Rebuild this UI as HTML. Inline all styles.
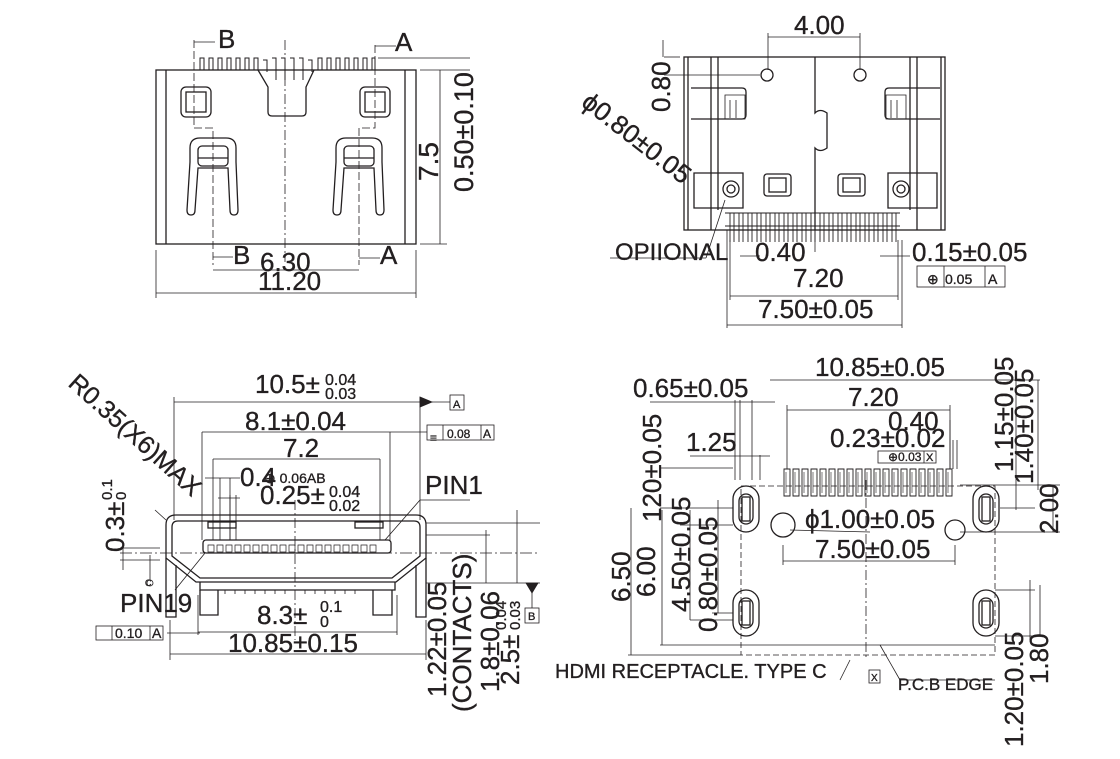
<!DOCTYPE html>
<html><head><meta charset="utf-8"><style>
html,body{margin:0;padding:0;background:#fff}
svg{display:block}
text{font-family:"Liberation Sans",sans-serif;fill:#231f20;stroke:#231f20;stroke-width:0.35}
</style></head><body>
<svg width="1120" height="759" viewBox="0 0 1120 759" xmlns="http://www.w3.org/2000/svg">
<g fill="none" stroke="#231f20" stroke-width="1.3">
<!-- ===== TOP LEFT ===== -->
<rect x="156" y="70" width="260" height="174"/>
<line x1="166" y1="70" x2="166" y2="244"/><line x1="405" y1="70" x2="405" y2="244"/>
<g stroke-width="1">
<path d="M200 70V58h4v12M209 70V58h4v12M218 70V58h4v12M227 70V58h4v12M236 70V58h4v12M245 70V58h4v12M254 70V58h4v12M318 70V58h4v12M327 70V58h4v12M336 70V58h4v12M345 70V58h4v12M354 70V58h4v12M363 70V58h4v12M372 70V58h3v12"/>
<path d="M263 60h4v12M272 58h4v22M281 58h4v22M290 58h4v22M299 58h4v22M308 60h4v12"/>
</g>
<path d="M258 70 L268 87 V112 q0 4 4 4 h30 q4 0 4-4 V87 L314 70"/>
<rect x="181" y="87" width="30" height="30" rx="5"/><rect x="186" y="92" width="20" height="20"/>
<rect x="360" y="87" width="30" height="30" rx="5"/><rect x="365" y="92" width="20" height="20"/>
<path d="M187 210 L190 162 V148 q0-10 10-10 h26 q10 0 10 10 V162 L238 210 q0 5-4 5 q-4 0-4-5 L228 168 H198 L195 210 q0 5-4 5 q-4 0-4-5Z"/>
<rect x="198" y="146" width="30" height="20" rx="4"/><line x1="198" y1="158" x2="228" y2="158"/>
<path d="M333 210 L336 162 V148 q0-10 10-10 h26 q10 0 10 10 V162 L384 210 q0 5-4 5 q-4 0-4-5 L374 168 H344 L341 210 q0 5-4 5 q-4 0-4-5Z"/>
<rect x="344" y="146" width="30" height="20" rx="4"/><line x1="344" y1="158" x2="374" y2="158"/>
<g stroke-width="0.8">
<line x1="285" y1="40" x2="285" y2="262" stroke-dasharray="10 3 2 3"/>
<path d="M194 40 V128 H213 V265" stroke-dasharray="8 3"/>
<path d="M375 45 V128 H359 V265" stroke-dasharray="8 3"/>
<line x1="194" y1="42" x2="215" y2="42"/><line x1="375" y1="46" x2="396" y2="46"/>
<line x1="213" y1="257" x2="233" y2="257"/><line x1="359" y1="258" x2="380" y2="258"/>
<line x1="213" y1="270" x2="359" y2="270"/>
<line x1="156" y1="250" x2="156" y2="298"/><line x1="416" y1="250" x2="416" y2="298"/>
<line x1="156" y1="293" x2="416" y2="293"/>
<line x1="420" y1="70" x2="470" y2="70"/><line x1="420" y1="244" x2="447" y2="244"/>
<line x1="378" y1="58" x2="470" y2="58"/>
<line x1="440" y1="70" x2="440" y2="244"/>
</g>
<!-- ===== TOP RIGHT ===== -->
<rect x="684" y="57" width="261" height="173"/>
<line x1="688" y1="57" x2="688" y2="230"/><line x1="941" y1="57" x2="941" y2="230"/>
<line x1="711" y1="57" x2="711" y2="230"/><line x1="718" y1="57" x2="718" y2="210"/>
<line x1="910" y1="57" x2="910" y2="210"/><line x1="917" y1="57" x2="917" y2="230"/>
<path d="M691 88 H742 q4 0 4 4 V115 q0 4-4 4 H691"/><path d="M940 88 H889 q-4 0-4 4 V115 q0 4 4 4 H940"/>
<path d="M725 95h20v24h-20zM730 100v18M736 100v18M886 95h20v24h-20zM891 100v18M897 100v18" stroke-width="0.8"/>
<path d="M694 173 H743 V208 H694 Z M937 173 H888 V208 H937Z"/>
<circle cx="767" cy="75" r="6"/><circle cx="860" cy="75" r="6"/>
<circle cx="731" cy="189" r="8"/><circle cx="731" cy="189" r="4"/>
<circle cx="901" cy="189" r="8"/><circle cx="901" cy="189" r="4"/>
<rect x="764" y="174" width="27" height="22" rx="3"/><rect x="769" y="178" width="17" height="14"/>
<rect x="838" y="174" width="27" height="22" rx="3"/><rect x="843" y="178" width="17" height="14"/>
<path d="M815 57 V113 q5-5 12 0 V148 q-7 5-12 0 V230"/>
<g stroke-width="0.9">
<path d="M730 213h4v29M739 213h4v29M748 213h4v29M757 213h4v29M766 213h4v29M775 213h4v29M784 213h4v29M793 213h4v29M802 213h4v29M811 213h4v29M820 213h4v29M829 213h4v29M838 213h4v29M847 213h4v29M856 213h4v29M865 213h4v29M874 213h4v29M883 213h4v29M892 213h4v29"/>
<path d="M730 242v-29M739 242v-29M748 242v-29M757 242v-29M766 242v-29M775 242v-29M784 242v-29M793 242v-29M802 242v-29M811 242v-29M820 242v-29M829 242v-29M838 242v-29M847 242v-29M856 242v-29M865 242v-29M874 242v-29M883 242v-29M892 242v-29"/>
<line x1="725" y1="213" x2="900" y2="213"/><line x1="725" y1="226" x2="900" y2="226"/>
</g>
<g stroke-width="0.8">
<line x1="768" y1="33" x2="768" y2="70"/><line x1="860" y1="33" x2="860" y2="70"/><line x1="768" y1="37" x2="860" y2="37"/>
<line x1="664" y1="57" x2="680" y2="57"/><line x1="664" y1="75" x2="760" y2="75"/><line x1="663" y1="40" x2="663" y2="57"/>
<line x1="610" y1="258" x2="706" y2="258"/><line x1="706" y1="258" x2="725" y2="200"/>
<line x1="727" y1="230" x2="727" y2="328"/><line x1="730" y1="240" x2="730" y2="300"/>
<line x1="898" y1="240" x2="898" y2="300"/><line x1="902" y1="240" x2="902" y2="328"/>
<line x1="730" y1="296" x2="898" y2="296"/><line x1="727" y1="325" x2="902" y2="325"/>
<line x1="740" y1="256" x2="760" y2="256"/><line x1="880" y1="256" x2="910" y2="256"/>
<line x1="815" y1="230" x2="815" y2="252"/>
<rect x="917" y="266" width="88" height="21"/><line x1="944" y1="266" x2="944" y2="287"/><line x1="985" y1="266" x2="985" y2="287"/>
</g>
<!-- ===== BOTTOM LEFT ===== -->
<path d="M166 558 V525 q0-10 10-10 H416 q10 0 10 10 V558 L396 582 H196 Z"/>
<path d="M172 556 V527 q0-6 6-6 H414 q6 0 6 6 V556 L392 578 H200 Z"/>
<path d="M200 582 V590 H395 V582"/>
<path d="M166 558 V617 h10 V565 M426 558 V617 h-10 V565"/>
<path d="M200 590 V615 h18 V590 M373 590 V615 h19 V590"/>
<rect x="203" y="540" width="188" height="13" rx="3"/>
<rect x="208" y="522" width="28" height="6"/><rect x="355" y="522" width="28" height="6"/>
<path d="M208 545h6v7h-6zM217 545h6v7h-6zM226 545h6v7h-6zM235 545h6v7h-6zM244 545h6v7h-6zM253 545h6v7h-6zM262 545h6v7h-6zM271 545h6v7h-6zM280 545h6v7h-6zM289 545h6v7h-6zM298 545h6v7h-6zM307 545h6v7h-6zM316 545h6v7h-6zM325 545h6v7h-6zM334 545h6v7h-6zM343 545h6v7h-6zM352 545h6v7h-6zM361 545h6v7h-6zM370 545h6v7h-6z" stroke-width="0.7"/>
<path d="M225 590v4M235 590v4M245 590v4M255 590v4M265 590v4M275 590v4M285 590v4M305 590v4M315 590v4M325 590v4M335 590v4M345 590v4M355 590v4" stroke-width="0.8"/>
<g stroke-width="0.8">
<line x1="174" y1="397" x2="174" y2="520"/><line x1="420" y1="397" x2="420" y2="520"/>
<line x1="174" y1="402" x2="420" y2="402"/><path d="M420 397 L432 402 L420 407Z" fill="#231f20"/><line x1="432" y1="402" x2="450" y2="402"/>
<rect x="450" y="395" width="14" height="15"/>
<line x1="202" y1="432" x2="202" y2="540"/><line x1="390" y1="432" x2="390" y2="540"/><line x1="202" y1="432" x2="390" y2="432"/><line x1="390" y1="432" x2="427" y2="432"/>
<rect x="427" y="425" width="67" height="15"/><line x1="443" y1="425" x2="443" y2="440"/><line x1="481" y1="425" x2="481" y2="440"/>
<line x1="213" y1="459" x2="213" y2="540"/><line x1="380" y1="459" x2="380" y2="540"/><line x1="213" y1="459" x2="380" y2="459"/>
<line x1="205" y1="478" x2="240" y2="478"/><line x1="220" y1="478" x2="220" y2="540"/><line x1="230" y1="478" x2="230" y2="540"/>
<line x1="218" y1="498" x2="240" y2="498"/><line x1="230" y1="495" x2="230" y2="540"/><line x1="236" y1="495" x2="236" y2="540"/>
<line x1="295" y1="500" x2="295" y2="640" stroke-dasharray="10 3 2 3"/>
<line x1="120" y1="553" x2="540" y2="553" stroke-dasharray="12 3 2 3"/>
<line x1="120" y1="548" x2="160" y2="548"/><line x1="120" y1="560" x2="160" y2="560"/>
<line x1="123" y1="548" x2="123" y2="570"/>
<line x1="150" y1="555" x2="150" y2="580"/><circle cx="150" cy="583" r="3"/>
<line x1="198" y1="595" x2="198" y2="635"/><line x1="397" y1="595" x2="397" y2="635"/><line x1="198" y1="632" x2="397" y2="632"/>
<line x1="170" y1="620" x2="170" y2="660"/><line x1="426" y1="620" x2="426" y2="660"/><line x1="170" y1="654" x2="426" y2="654"/>
<line x1="167" y1="633" x2="200" y2="633"/>
<rect x="96" y="626" width="67" height="14"/><line x1="112" y1="626" x2="112" y2="640"/><line x1="150" y1="626" x2="150" y2="640"/>
<line x1="385" y1="540" x2="420" y2="500"/><line x1="420" y1="500" x2="470" y2="500"/>
<line x1="205" y1="553" x2="175" y2="590"/>
<line x1="166" y1="520" x2="155" y2="510"/>
<line x1="426" y1="523" x2="540" y2="523"/><line x1="426" y1="535" x2="490" y2="535"/><line x1="426" y1="583" x2="540" y2="583"/>
<line x1="517" y1="510" x2="517" y2="583"/><line x1="486" y1="530" x2="486" y2="583"/>
<path d="M526 583 L538 583 L532 593Z" fill="#231f20"/><line x1="532" y1="593" x2="532" y2="608"/><rect x="525" y="608" width="14" height="15"/>
</g>
<!-- ===== BOTTOM RIGHT ===== -->
<g stroke-width="0.9">
<path d="M784 469h6v27h-6zM793 469h6v27h-6zM802 469h6v27h-6zM811 469h6v27h-6zM820 469h6v27h-6zM829 469h6v27h-6zM838 469h6v27h-6zM847 469h6v27h-6zM856 469h6v27h-6zM865 469h6v27h-6zM874 469h6v27h-6zM883 469h6v27h-6zM892 469h6v27h-6zM901 469h6v27h-6zM910 469h6v27h-6zM919 469h6v27h-6zM928 469h6v27h-6zM937 469h6v27h-6zM946 469h6v27h-6z"/>
<path d="M786 472v21M795 472v21M804 472v21M813 472v21M822 472v21M831 472v21M840 472v21M849 472v21M858 472v21M867 472v21M876 472v21M885 472v21M894 472v21M903 472v21M912 472v21M921 472v21M930 472v21M939 472v21M948 472v21" stroke-width="0.6"/>
</g>
<rect x="733" y="486" width="26" height="46" rx="13"/><rect x="739" y="494" width="14" height="30" rx="7"/><rect x="742" y="497" width="8" height="24"/>
<rect x="973" y="486" width="26" height="46" rx="13"/><rect x="979" y="494" width="14" height="30" rx="7"/><rect x="982" y="497" width="8" height="24"/>
<rect x="733" y="590" width="26" height="46" rx="13"/><rect x="739" y="598" width="14" height="30" rx="7"/><rect x="742" y="601" width="8" height="24"/>
<rect x="973" y="590" width="26" height="46" rx="13"/><rect x="979" y="598" width="14" height="30" rx="7"/><rect x="982" y="601" width="8" height="24"/>
<circle cx="783" cy="525" r="12"/><circle cx="955" cy="530" r="10"/>
<g stroke-width="0.8">
<rect x="741" y="486" width="254" height="169" stroke-dasharray="6 3"/>
<line x1="866" y1="480" x2="866" y2="660" stroke-dasharray="10 3 2 3"/>
<line x1="770" y1="380" x2="990" y2="380"/><line x1="650" y1="402" x2="775" y2="402"/>
<line x1="787" y1="410" x2="950" y2="410"/><line x1="787" y1="405" x2="787" y2="469"/><line x1="950" y1="405" x2="950" y2="469"/>
<line x1="735" y1="400" x2="735" y2="480"/><line x1="752" y1="400" x2="752" y2="480"/><line x1="740" y1="400" x2="740" y2="480"/>
<line x1="690" y1="456" x2="770" y2="456"/><line x1="760" y1="455" x2="760" y2="480"/>
<line x1="950" y1="420" x2="950" y2="469"/><line x1="953" y1="440" x2="953" y2="469"/><line x1="957" y1="440" x2="957" y2="469"/>
<rect x="878" y="451" width="58" height="12"/><line x1="924" y1="451" x2="924" y2="463"/>
<line x1="660" y1="468" x2="733" y2="468"/><line x1="660" y1="508" x2="733" y2="508"/><line x1="680" y1="525" x2="733" y2="525"/>
<line x1="790" y1="530" x2="870" y2="532"/>
<line x1="783" y1="545" x2="783" y2="565"/><line x1="955" y1="545" x2="955" y2="565"/><line x1="783" y1="561" x2="955" y2="561"/>
<line x1="631" y1="508" x2="631" y2="655"/><line x1="662" y1="510" x2="662" y2="645"/><line x1="690" y1="510" x2="690" y2="620"/><line x1="718" y1="500" x2="718" y2="613"/>
<line x1="628" y1="655" x2="741" y2="655"/><line x1="660" y1="645" x2="995" y2="645"/><line x1="690" y1="620" x2="733" y2="620"/><line x1="712" y1="613" x2="733" y2="613"/>
<line x1="960" y1="485" x2="1060" y2="485"/><line x1="960" y1="532" x2="1060" y2="532"/>
<line x1="1000" y1="508" x2="1035" y2="508"/><line x1="1016" y1="380" x2="1016" y2="510"/><line x1="1038" y1="380" x2="1038" y2="490"/><line x1="1053" y1="485" x2="1053" y2="532"/>
<line x1="990" y1="380" x2="1040" y2="380"/>
<line x1="995" y1="590" x2="1035" y2="590"/><line x1="995" y1="636" x2="1035" y2="636"/><line x1="1030" y1="580" x2="1030" y2="640"/><line x1="1040" y1="585" x2="1040" y2="636"/>
<line x1="880" y1="645" x2="900" y2="680"/><line x1="900" y1="680" x2="995" y2="680"/>
<line x1="840" y1="680" x2="850" y2="660"/>
<rect x="869" y="670" width="11" height="13"/>
</g>
</g>

<!-- ===== TEXT ===== -->
<g font-size="26">
<text x="218" y="48">B</text><text x="395" y="51">A</text>
<text x="233" y="264">B</text><text x="380" y="264">A</text>
<text x="260" y="271">6.30</text><text x="258" y="290">11.20</text>
<text transform="translate(438,181) rotate(-90)" font-size="28">7.5</text>
<text transform="translate(473,192) rotate(-90)" font-size="27">0.50±0.10</text>

<text x="794" y="34">4.00</text>
<text transform="translate(670,112) rotate(-90)">0.80</text>
<text transform="translate(580,105) rotate(38)">ϕ0.80±0.05</text>
<text x="615" y="260" font-size="24">OPIIONAL</text>
<text x="755" y="261">0.40</text>
<text x="912" y="261">0.15±0.05</text>
<text x="945" y="284" font-size="14">0.05</text><text x="988" y="284" font-size="14">A</text>
<text x="927" y="284" font-size="14">⊕</text>
<text x="793" y="287">7.20</text>
<text x="758" y="318">7.50±0.05</text>

<text x="255" y="393">10.5±</text><text x="325" y="385" font-size="16">0.04</text><text x="325" y="399" font-size="16">0.03</text>
<text x="245" y="430">8.1±0.04</text>
<text x="283" y="457">7.2</text>
<text x="240" y="486">0.4</text><text x="264" y="483" font-size="14">⊕ 0.06AB</text>
<text x="260" y="504">0.25±</text><text x="329" y="497" font-size="16">0.04</text><text x="329" y="511" font-size="16">0.02</text>
<text x="425" y="494">PIN1</text>
<text x="120" y="612">PIN19</text>
<text x="257" y="624">8.3±</text><text x="320" y="612" font-size="16">0.1</text><text x="320" y="627" font-size="16">0</text>
<text x="228" y="652">10.85±0.15</text>
<text x="115" y="638" font-size="14">0.10</text><text x="152" y="638" font-size="14">A</text>
<text x="430" y="442" font-size="12">≡</text><text x="447" y="438" font-size="12">0.08</text><text x="483" y="438" font-size="12">A</text>
<text x="453" y="408" font-size="11">A</text><text x="528" y="620" font-size="11">B</text>
<text x="145" y="586" font-size="9">C</text>
<text transform="translate(67,385) rotate(42)" font-size="25">R0.35(X6)MAX</text>
<text transform="translate(124,552) rotate(-90)">0.3±</text>
<text transform="translate(112,500) rotate(-90)" font-size="15">0.1</text>
<text transform="translate(126,500) rotate(-90)" font-size="15">0</text>
<text transform="translate(446,697) rotate(-90)" font-size="26">1.22±0.05</text>
<text transform="translate(471,712) rotate(-90)" font-size="26">(CONTACTS)</text>
<text transform="translate(499,692) rotate(-90)" font-size="26">1.8±0.06</text>
<text transform="translate(519,685) rotate(-90)" font-size="26">2.5±</text>
<text transform="translate(506,630) rotate(-90)" font-size="15">0.04</text>
<text transform="translate(520,630) rotate(-90)" font-size="15">0.03</text>

<text x="815" y="376">10.85±0.05</text>
<text x="633" y="397">0.65±0.05</text>
<text x="848" y="406">7.20</text>
<text x="888" y="430">0.40</text>
<text x="830" y="447">0.23±0.02</text>
<text x="888" y="461" font-size="12">⊕0.03</text><text x="926" y="461" font-size="11">X</text>
<text x="686" y="451">1.25</text>
<text x="805" y="528">ϕ1.00±0.05</text>
<text x="815" y="558">7.50±0.05</text>
<text x="555" y="678" font-size="20">HDMI RECEPTACLE. TYPE C</text>
<text x="871" y="681" font-size="10">X</text>
<text x="898" y="690" font-size="17">P.C.B EDGE</text>
<text transform="translate(630,602) rotate(-90)">6.50</text>
<text transform="translate(655,597) rotate(-90)">6.00</text>
<text transform="translate(661,522) rotate(-90)">120±0.05</text>
<text transform="translate(690,612) rotate(-90)">4.50±0.05</text>
<text transform="translate(717,632) rotate(-90)">0.80±0.05</text>
<text transform="translate(1013,472) rotate(-90)">1.15±0.05</text>
<text transform="translate(1033,484) rotate(-90)">1.40±0.05</text>
<text transform="translate(1058,534) rotate(-90)">2.00</text>
<text transform="translate(1023,747) rotate(-90)">1.20±0.05</text>
<text transform="translate(1048,684) rotate(-90)">1.80</text>
</g>
</svg>
</body></html>
